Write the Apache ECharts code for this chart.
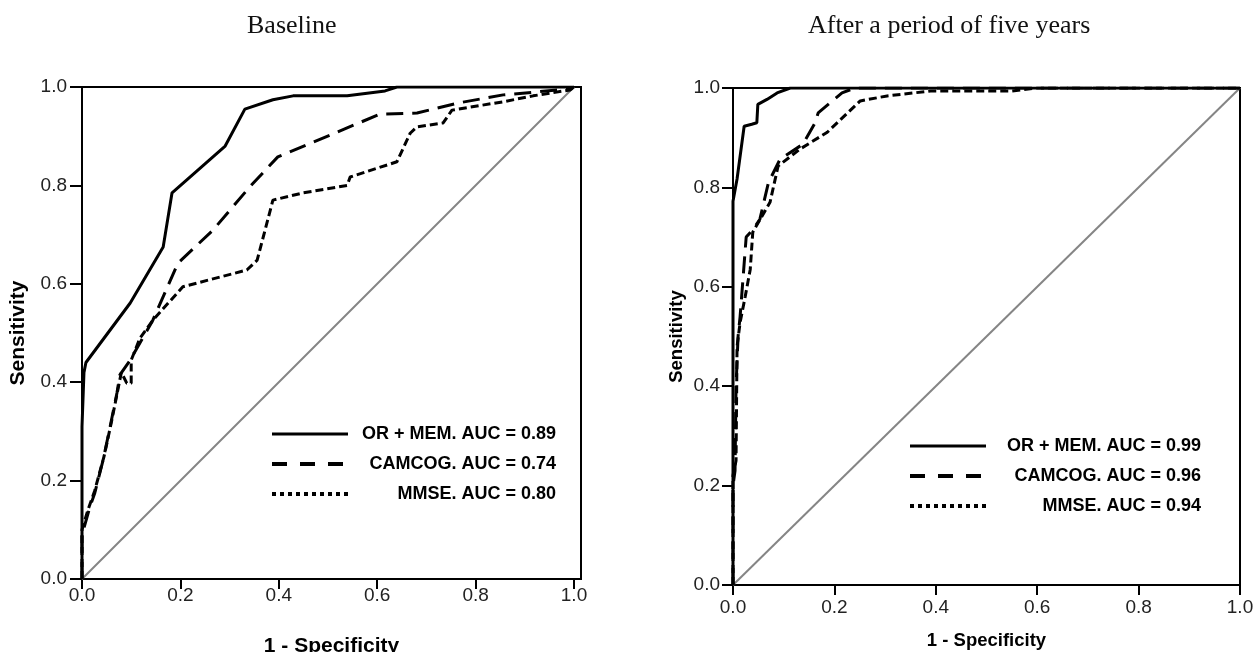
<!DOCTYPE html>
<html>
<head>
<meta charset="utf-8">
<script src="https://cdn.jsdelivr.net/npm/echarts@6/dist/echarts.min.js"></script>
<style>
html,body{margin:0;padding:0;background:#fff;}
#chart{width:1255px;height:652px;}
</style>
</head>
<body>
<div id="chart"></div>
<script>
// ---- Data ----
const panelTitles = ['Baseline', 'After a period of five years'];
const tickValues = [0, 0.2, 0.4, 0.6, 0.8, 1.0];
const seriesNamesBaseline = ['OR + MEM. AUC = 0.89', 'CAMCOG. AUC = 0.74', 'MMSE. AUC = 0.80'];
const seriesNamesFiveYears = ['OR + MEM. AUC = 0.99', 'CAMCOG. AUC = 0.96', 'MMSE. AUC = 0.94'];
const diagonal = [[0, 0], [1, 1]];

// Baseline ROC curves: [1 - specificity, sensitivity]
const baseOrMem = [[0,0],[0,0.31],[0.004,0.42],[0.008,0.44],[0.098,0.561],[0.165,0.675],[0.183,0.785],
  [0.291,0.88],[0.331,0.955],[0.388,0.974],[0.429,0.982],[0.539,0.982],[0.616,0.992],[0.64,1.0],[1,1]];
const baseCamcog = [[0,0],[0,0.09],[0.016,0.146],[0.026,0.175],[0.043,0.242],[0.057,0.309],[0.071,0.378],
  [0.077,0.415],[0.098,0.445],[0.144,0.526],[0.195,0.642],[0.266,0.709],[0.341,0.797],[0.398,0.858],
  [0.47,0.888],[0.606,0.945],[0.681,0.947],[0.762,0.967],[0.856,0.984],[0.992,0.996],[1,1]];
const baseMmse = [[0,0],[0,0.1],[0.012,0.14],[0.026,0.18],[0.045,0.25],[0.06,0.32],[0.08,0.42],[0.091,0.398],
  [0.1,0.398],[0.1,0.445],[0.118,0.49],[0.144,0.526],[0.205,0.594],[0.335,0.628],[0.356,0.648],[0.388,0.77],
  [0.45,0.785],[0.539,0.80],[0.545,0.817],[0.64,0.848],[0.667,0.906],[0.681,0.919],[0.734,0.927],
  [0.752,0.953],[0.856,0.97],[0.917,0.982],[0.992,0.994],[1,1]];

// Five-year ROC curves
const fiveOrMem = [[0,0],[0,0.772],[0.008,0.817],[0.022,0.923],[0.037,0.927],[0.047,0.93],[0.049,0.967],
  [0.067,0.977],[0.087,0.99],[0.113,1.0],[1,1]];
const fiveCamcog = [[0,0],[0,0.2],[0.004,0.23],[0.006,0.40],[0.01,0.5],[0.014,0.54],[0.02,0.62],[0.026,0.70],
  [0.04,0.716],[0.053,0.736],[0.07,0.81],[0.093,0.857],[0.138,0.887],[0.162,0.93],[0.168,0.95],[0.215,0.99],
  [0.24,1.0],[1,1]];
const fiveMmse = [[0,0],[0,0.22],[0.006,0.25],[0.008,0.48],[0.014,0.528],[0.024,0.58],[0.034,0.635],
  [0.039,0.71],[0.073,0.77],[0.089,0.843],[0.132,0.877],[0.186,0.911],[0.251,0.974],[0.304,0.984],
  [0.39,0.994],[0.55,0.994],[0.6,1.0],[1,1]];

// ---- Styles ----
const FONT = 'Liberation Sans, Arial, sans-serif';
const styleSolid = {color: '#000', width: 3, type: 'solid'};
const styleDash = {color: '#000', width: 3, type: [17, 9]};
const styleShort = {color: '#000', width: 3, type: [8, 4]};
const legendDash = [15, 13];
const legendDot = [4, 4];

function makeAxis(gridIndex, axisMax, name, nameGap, nameSize, tickLen, margin) {
  return {
    type: 'value', gridIndex, min: 0, max: axisMax, interval: 0.2,
    name, nameLocation: 'middle', nameGap,
    nameTextStyle: {fontFamily: FONT, fontWeight: 'bold', fontSize: nameSize, color: '#000'},
    splitLine: {show: false},
    axisLine: {show: true, lineStyle: {color: '#000', width: 2}},
    axisTick: {show: true, length: tickLen, customValues: tickValues, lineStyle: {color: '#000', width: 2}},
    axisLabel: {fontFamily: FONT, fontSize: 19, color: '#222', margin, customValues: tickValues,
      formatter: v => Number(v).toFixed(1)}
  };
}

function curve(name, data, idx, style, z) {
  return {name, type: 'line', xAxisIndex: idx, yAxisIndex: idx, data, symbol: 'none',
    showSymbol: false, lineStyle: style, itemStyle: {color: '#000'}, z, animation: false};
}

const hiddenMarker = {color: 'rgba(0,0,0,0)', borderColor: 'rgba(0,0,0,0)', borderWidth: 0};

function makeLegend(names, left, top, textWidth, gap) {
  return {
    orient: 'vertical', left, top, itemWidth: 76, itemHeight: 14, itemGap: gap,
    selectedMode: false,
    itemStyle: hiddenMarker,
    data: [
      {name: names[0], itemStyle: hiddenMarker, lineStyle: {type: 'solid', width: 3, color: '#000'}},
      {name: names[1], itemStyle: hiddenMarker, lineStyle: {type: legendDash, width: 4, color: '#000'}},
      {name: names[2], itemStyle: hiddenMarker, lineStyle: {type: legendDot, width: 4, color: '#000'}}
    ],
    formatter: '{t|{name}}',
    textStyle: {rich: {t: {width: textWidth, align: 'right', fontFamily: FONT, fontWeight: 'bold',
      fontSize: 18, color: '#000', lineHeight: 20}}}
  };
}

const option = {
  backgroundColor: '#fff',
  animation: false,
  title: [
    {text: panelTitles[0], left: 242, top: 8,
      textStyle: {fontFamily: 'Liberation Serif, Times New Roman, serif', fontSize: 26, fontWeight: 'normal', color: '#111'}},
    {text: panelTitles[1], left: 803, top: 8,
      textStyle: {fontFamily: 'Liberation Serif, Times New Roman, serif', fontSize: 26, fontWeight: 'normal', color: '#111'}}
  ],
  grid: [
    {left: 82, top: 87, width: 499, height: 492, show: true, borderColor: '#000', borderWidth: 2,
      backgroundColor: 'transparent', outerBoundsMode: 'none', containLabel: false},
    {left: 733, top: 88, width: 507, height: 497, show: true, borderColor: '#000', borderWidth: 2,
      backgroundColor: 'transparent', outerBoundsMode: 'none', containLabel: false}
  ],
  xAxis: [
    makeAxis(0, 1.0142, '1 - Specificity', 57, 21, 10, 7),
    makeAxis(1, 1, '1 - Specificity', 46, 18.5, 10, 13)
  ],
  yAxis: [
    makeAxis(0, 1, 'Sensitivity', 53, 21, 12, 15),
    makeAxis(1, 1, 'Sensitivity', 47, 18.5, 11, 13)
  ],
  legend: [
    makeLegend(seriesNamesBaseline, 265, 420, 203, 12),
    makeLegend(seriesNamesFiveYears, 903, 432, 210, 12)
  ],
  series: [
    {name: 'ref0', type: 'line', xAxisIndex: 0, yAxisIndex: 0, data: diagonal, symbol: 'none',
      lineStyle: {color: '#858585', width: 2}, z: 1, silent: true},
    {name: 'ref1', type: 'line', xAxisIndex: 1, yAxisIndex: 1, data: diagonal, symbol: 'none',
      lineStyle: {color: '#858585', width: 2}, z: 1, silent: true},
    curve(seriesNamesBaseline[2], baseMmse, 0, styleShort, 3),
    curve(seriesNamesBaseline[1], baseCamcog, 0, styleDash, 4),
    curve(seriesNamesBaseline[0], baseOrMem, 0, styleSolid, 5),
    curve(seriesNamesFiveYears[2], fiveMmse, 1, styleShort, 3),
    curve(seriesNamesFiveYears[1], fiveCamcog, 1, styleDash, 4),
    curve(seriesNamesFiveYears[0], fiveOrMem, 1, styleSolid, 5)
  ]
};

const chart = echarts.init(document.getElementById('chart'), null, {renderer: 'canvas'});
chart.setOption(option);
</script>
</body>
</html>
